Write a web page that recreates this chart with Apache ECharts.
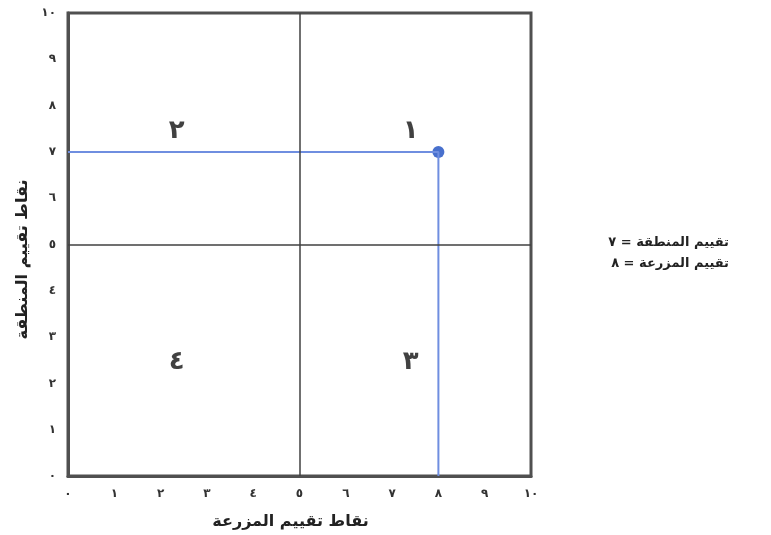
<!DOCTYPE html>
<html><head><meta charset="utf-8">
<script src="https://cdn.jsdelivr.net/npm/echarts@6/dist/echarts.min.js"></script>
<style>html,body{margin:0;padding:0;background:#fff}#c{width:771px;height:535px}</style>
</head><body><div id="c"></div>
<script>
const tickLabels = ['٠','١','٢','٣','٤','٥','٦','٧','٨','٩','١٠'];
const point = [8, 7];
const quadrantLabels = [
  {x: 2.35, y: 7.45, text: '٢'},
  {x: 7.4, y: 7.45, text: '١'},
  {x: 2.35, y: 2.45, text: '٤'},
  {x: 7.4, y: 2.45, text: '٣'}
];
const splitValue = 5;
const legendLines = ['تقييم المنطقة = ٧', 'تقييم المزرعة = ٨'];
const xName = 'نقاط تقييم المزرعة';
const yName = 'نقاط تقييم المنطقة';

const font = 'DejaVu Sans';
const chart = echarts.init(document.getElementById('c'));
const axisCommon = {
  type: 'value', min: 0, max: 10, interval: 1,
  axisLine: {show: true, lineStyle: {color: '#505050', width: 3}},
  axisTick: {show: false},
  splitLine: {show: false},
  nameLocation: 'middle',
  axisLabel: {formatter: v => tickLabels[Math.round(v)], fontFamily: font, fontWeight: 'bold', fontSize: 12, color: '#333', margin: 12}
};
chart.setOption({
  animation: false,
  backgroundColor: '#fff',
  grid: {left: 68, top: 13, width: 463, height: 465, show: true, borderColor: '#505050', borderWidth: 3, backgroundColor: 'transparent'},
  xAxis: Object.assign({}, axisCommon, {name: xName, nameGap: 38, position: 'bottom',
    nameTextStyle: {fontFamily: font, fontWeight: 'bold', fontSize: 16, color: '#222', padding: [0, 18, 0, 0]}}),
  yAxis: Object.assign({}, axisCommon, {name: yName, nameGap: 36,
    nameTextStyle: {fontFamily: font, fontWeight: 'bold', fontSize: 16, color: '#222', padding: [0, 30, 0, 0]}}),
  graphic: legendLines.map((t, i) => ({
    type: 'text', right: 42, top: 236 + i * 21,
    style: {text: t, fontFamily: font, fontWeight: 'bold', fontSize: 13, fill: '#222'}
  })),
  series: [
    {
      type: 'line', symbol: 'none', silent: true,
      data: [[10, 10]], lineStyle: {opacity: 0},
      markLine: {
        symbol: 'none', silent: true, label: {show: false},
        lineStyle: {color: '#404040', width: 1.5, type: 'solid'},
        data: [{xAxis: splitValue}, {yAxis: splitValue}]
      }
    },
    {
      type: 'line', symbol: 'none',
      data: [[0, point[1]], point, [point[0], 0]],
      lineStyle: {color: '#6f8ee0', width: 2}
    },
    {
      type: 'scatter', data: [point], symbolSize: 12,
      itemStyle: {color: '#1a4cc0'}
    },
    {
      type: 'scatter', symbolSize: 0,
      data: quadrantLabels.map(q => ({value: [q.x, q.y], label: {formatter: q.text}})),
      label: {show: true, position: 'inside', fontFamily: font, fontWeight: 'bold', fontSize: 26, color: '#111'}
    }
  ]
});
</script></body></html>
